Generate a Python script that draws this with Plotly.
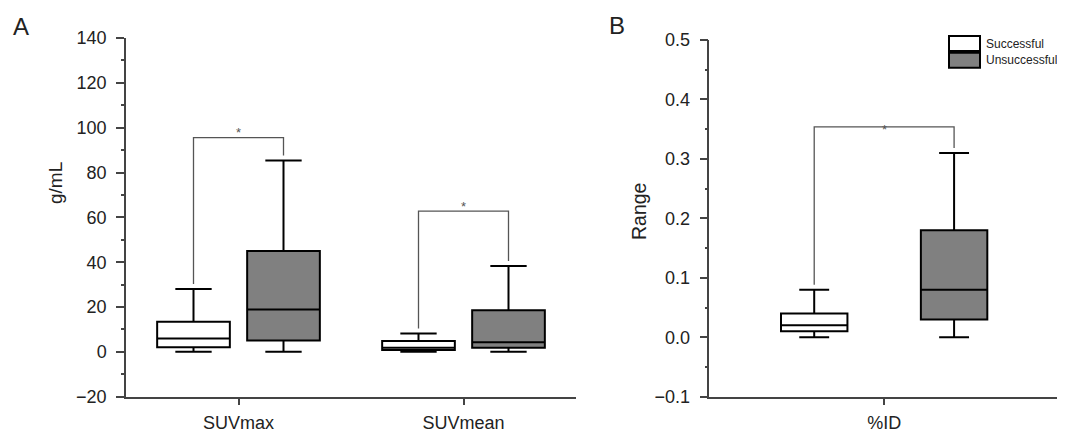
import plotly.graph_objects as go

# ---------------- data ----------------
categories_a = ["SUVmax", "SUVmean"]
succ_a_lower = [0.0, 0.0]
succ_a_q1 = [2.1, 0.8]
succ_a_median = [6.0, 1.8]
succ_a_q3 = [13.4, 4.8]
succ_a_upper = [28.0, 8.2]

unsucc_a_lower = [0.0, 0.0]
unsucc_a_q1 = [5.1, 1.8]
unsucc_a_median = [18.9, 4.3]
unsucc_a_q3 = [45.0, 18.6]
unsucc_a_upper = [85.4, 38.3]

bracket_a_top = [95.6, 62.8]

categories_b = ["%ID"]
succ_b_lower = [0.0]
succ_b_q1 = [0.01]
succ_b_median = [0.02]
succ_b_q3 = [0.04]
succ_b_upper = [0.08]

unsucc_b_lower = [0.0]
unsucc_b_q1 = [0.03]
unsucc_b_median = [0.08]
unsucc_b_q3 = [0.18]
unsucc_b_upper = [0.31]

bracket_b_top = [0.354]

group_names = ["Successful", "Unsuccessful"]
ya_ticks = [-20, 0, 20, 40, 60, 80, 100, 120, 140]
yb_ticks = [-0.1, 0.0, 0.1, 0.2, 0.3, 0.4, 0.5]
yb_ticklabels = ["\u22120.1", "0.0", "0.1", "0.2", "0.3", "0.4", "0.5"]
ya_ticklabels = ["\u221220" if v < 0 else str(v) for v in ya_ticks]

# ---------------- styles ----------------
FONT = "Liberation Sans, Arial, Helvetica, sans-serif"
TXT = "#222222"
AXC = "#444444"
GRAY = "#808080"
BR = "#555555"
OFF = 0.2

# page body has an 8px margin: figure is drawn offset by (8, 8)
PAD = 8
W, H = 1065 - PAD, 432 - PAD


def px(x):
    return (x - PAD) / W


def py(y):
    return 1 - (y - PAD) / H


dom_a = [px(126), px(576)]
dom_b = [px(709.3), px(1059)]
ydom_a = [py(396.7), py(38)]
ydom_b = [py(396.7), py(40)]
ra_a = [-20, 140]
ra_b = [-0.1, 0.5]

fig = go.Figure()


def add_box(xs, lo, q1, med, q3, up, fill, xa, ya, width, ww, name):
    fig.add_trace(go.Box(
        x=xs, lowerfence=lo, q1=q1, median=med, q3=q3, upperfence=up,
        width=width, whiskerwidth=ww, fillcolor=fill,
        line=dict(color="black", width=2), boxpoints=False,
        xaxis=xa, yaxis=ya, name=name, showlegend=False, hoverinfo="skip"))


idx_a = list(range(len(categories_a)))
add_box([i - OFF for i in idx_a], succ_a_lower, succ_a_q1, succ_a_median,
        succ_a_q3, succ_a_upper, "white", "x", "y", 0.323, 0.5, group_names[0])
add_box([i + OFF for i in idx_a], unsucc_a_lower, unsucc_a_q1, unsucc_a_median,
        unsucc_a_q3, unsucc_a_upper, GRAY, "x", "y", 0.323, 0.5, group_names[1])

idx_b = list(range(len(categories_b)))
add_box([i - OFF for i in idx_b], succ_b_lower, succ_b_q1, succ_b_median,
        succ_b_q3, succ_b_upper, "white", "x2", "y2", 0.19, 0.45, group_names[0])
add_box([i + OFF for i in idx_b], unsucc_b_lower, unsucc_b_q1, unsucc_b_median,
        unsucc_b_q3, unsucc_b_upper, GRAY, "x2", "y2", 0.19, 0.45, group_names[1])

shapes = []
annotations = []


def bracket(i, top, up1, up2, xref, yref, yrange, ypx, star_shift):
    gap = 5 * (yrange[1] - yrange[0]) / ypx
    x1, x2 = i - OFF, i + OFF
    path = f"M {x1} {up1 + gap} L {x1} {top} L {x2} {top} L {x2} {up2 + gap}"
    shapes.append(dict(type="path", path=path, xref=xref, yref=yref,
                       line=dict(color=BR, width=1.3)))
    annotations.append(dict(x=i, y=top, xref=xref, yref=yref, text="*",
                            showarrow=False, yshift=star_shift,
                            xanchor="center", yanchor="middle",
                            font=dict(family=FONT, size=13, color=BR)))


for i in idx_a:
    bracket(i, bracket_a_top[i], succ_a_upper[i], unsucc_a_upper[i],
            "x", "y", ra_a, 358.7, 5)
for i in idx_b:
    bracket(i, bracket_b_top[i], succ_b_upper[i], unsucc_b_upper[i],
            "x2", "y2", ra_b, 356.7, -3)

# custom legend
for k, (y0, y1, fill) in enumerate([(36, 51, "white"), (52.7, 67.7, GRAY)]):
    shapes.append(dict(type="rect", xref="paper", yref="paper",
                       x0=px(949), x1=px(980), y0=py(y1), y1=py(y0),
                       fillcolor=fill, line=dict(color="black", width=2)))
    annotations.append(dict(x=px(984), y=py((y0 + y1) / 2), xref="paper",
                            yref="paper", text=group_names[k], showarrow=False,
                            xanchor="left", yanchor="middle",
                            font=dict(family=FONT, size=12, color=TXT)))


def label(x, y, text, size, angle=0):
    annotations.append(dict(x=px(x), y=py(y), xref="paper", yref="paper",
                            text=text, textangle=angle, showarrow=False,
                            xanchor="center", yanchor="middle",
                            font=dict(family=FONT, size=size, color=TXT)))


# axis titles
label(55, 183, "g/mL", 19, -90)
label(639, 212, "Range", 19.5, -90)
# panel labels
label(21, 26, "A", 24)
label(617, 25, "B", 24)

tickfont = dict(family=FONT, size=18, color=TXT)
common_x = dict(showline=True, linecolor=AXC, linewidth=1.5, ticks="outside",
                ticklen=7, tickcolor=AXC, tickwidth=1.5, showgrid=False,
                zeroline=False, tickfont=tickfont, ticklabelstandoff=2,
                automargin=False)
common_y = dict(showline=True, linecolor=AXC, linewidth=1.5, ticks="outside",
                ticklen=8, tickcolor=AXC, tickwidth=1.5, showgrid=False,
                zeroline=False, tickfont=tickfont, ticklabelstandoff=6,
                automargin=False)

fig.update_layout(
    template="none",
    width=W, height=H, margin=dict(l=0, r=0, t=0, b=0, autoexpand=False),
    paper_bgcolor="white", plot_bgcolor="white", showlegend=False,
    xaxis=dict(domain=dom_a, range=[-0.5, len(categories_a) - 0.5],
               tickvals=idx_a, ticktext=categories_a, anchor="y", **common_x),
    yaxis=dict(domain=ydom_a, range=ra_a, tickvals=ya_ticks,
               ticktext=ya_ticklabels, anchor="x",
               minor=dict(dtick=10, ticklen=3, ticks="outside",
                          tickcolor=AXC, tickwidth=1.5, showgrid=False),
               **common_y),
    xaxis2=dict(domain=dom_b, range=[-0.5, len(categories_b) - 0.5],
                tickvals=idx_b, ticktext=categories_b, anchor="y2", **common_x),
    yaxis2=dict(domain=ydom_b, range=ra_b, tickvals=yb_ticks,
                ticktext=yb_ticklabels, anchor="x2",
                minor=dict(dtick=0.05, ticklen=3, ticks="outside",
                           tickcolor=AXC, tickwidth=1.5, showgrid=False),
                **common_y),
    shapes=shapes, annotations=annotations,
)

fig.write_html("out.html")
